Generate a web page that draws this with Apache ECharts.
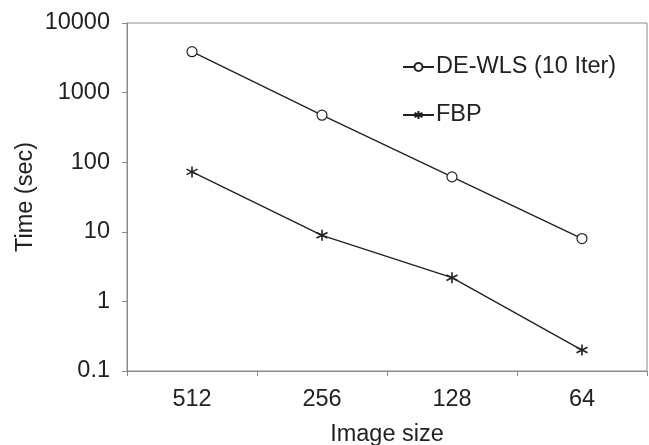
<!DOCTYPE html>
<html>
<head>
<meta charset="utf-8">
<script src="https://cdn.jsdelivr.net/npm/echarts@6/dist/echarts.min.js"></script>
<style>
html,body{margin:0;padding:0;background:#fff;}
#c{width:649px;height:445px;}
</style>
</head>
<body>
<div id="c"></div>
<script>
var categories = ['512', '256', '128', '64'];
var deWls = [3870, 474, 61.5, 8.0];
var fbp = [72.6, 8.9, 2.19, 0.2];
var yTicks = [0.1, 1, 10, 100, 1000, 10000];

var FONT = '"Liberation Sans", Arial, Helvetica, sans-serif';
var FS = 23.5;
var INK = '#222';
var AXIS = '#8a8a8a';
var starPath = 'path://M5 0 L5 10 M0.67 2.5 L9.33 7.5 M0.67 7.5 L9.33 2.5';

var chart = echarts.init(document.getElementById('c'), null, {renderer: 'canvas'});
chart.setOption({
  animation: false,
  backgroundColor: '#fff',
  grid: {left: 127, top: 23, right: 2, bottom: 74, show: true, borderColor: AXIS, borderWidth: 1,
         containLabel: false, outerBoundsMode: 'none'},
  legend: {
    orient: 'vertical', left: 397, top: 50, itemWidth: 31, itemHeight: 10, itemGap: 24,
    textStyle: {fontFamily: FONT, fontSize: FS, color: INK, padding: [0, 0, 0, -3]},
    data: ['DE-WLS (10 Iter)', 'FBP']
  },
  xAxis: {
    type: 'category', data: categories, boundaryGap: true,
    name: 'Image size', nameLocation: 'middle', nameGap: 52, nameMoveOverlap: false,
    nameTextStyle: {fontFamily: FONT, fontSize: FS, color: INK},
    axisLine: {lineStyle: {color: AXIS, width: 1}},
    axisTick: {show: true, length: 5, lineStyle: {color: AXIS}},
    axisLabel: {fontFamily: FONT, fontSize: FS, color: INK, margin: 17},
    splitLine: {show: false}
  },
  yAxis: {
    type: 'log', logBase: 10, min: yTicks[0], max: yTicks[yTicks.length - 1],
    name: 'Time (sec)', nameLocation: 'middle', nameGap: 89, nameRotate: 90, nameMoveOverlap: false,
    nameTextStyle: {fontFamily: FONT, fontSize: FS, color: INK},
    axisLine: {show: true, lineStyle: {color: AXIS, width: 1}},
    axisTick: {show: true, length: 5, lineStyle: {color: AXIS}},
    axisLabel: {fontFamily: FONT, fontSize: FS, color: INK, margin: 17,
      formatter: function (v) { return String(+v.toPrecision(6)); }},
    splitLine: {show: false}, minorTick: {show: false}
  },
  series: [
    {
      name: 'DE-WLS (10 Iter)', type: 'line', data: deWls,
      symbol: 'circle', symbolSize: 10, showAllSymbol: true,
      lineStyle: {color: '#222', width: 1.4},
      itemStyle: {color: '#fff', borderColor: '#222', borderWidth: 1.2}
    },
    {
      name: 'FBP', type: 'line', data: fbp,
      symbol: starPath, symbolSize: 11, showAllSymbol: true,
      lineStyle: {color: '#222', width: 1.4},
      itemStyle: {color: 'none', borderColor: '#222', borderWidth: 1.6}
    }
  ]
});
</script>
</body>
</html>
